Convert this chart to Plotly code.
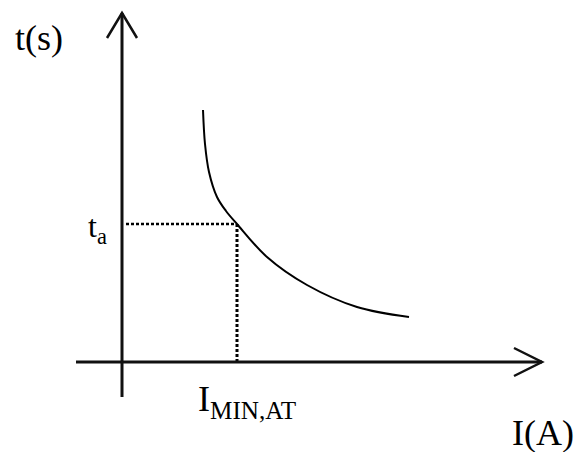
import plotly.graph_objects as go

# Inverse-time trip characteristic t(I), in drawing units (origin at axis crossing)
current = [81, 83, 87, 95, 104, 115, 145, 185, 235, 287]
trip_time = [252, 218, 190, 165, 151, 138, 105, 77, 55, 45]

# Operating point: minimum current and its trip time
i_min_at = 115
t_a = 138

# Axis extents
x_axis_start, x_axis_end = -46, 420
y_axis_start, y_axis_end = -35, 349

FONT = "Liberation Serif, Times New Roman, serif"
INK = "black"

fig = go.Figure()

# characteristic curve
fig.add_trace(go.Scatter(
    x=current, y=trip_time, mode="lines",
    line=dict(color=INK, width=2, shape="spline", smoothing=1.0),
    hoverinfo="skip", showlegend=False,
))

# dotted guide lines to the operating point
fig.add_trace(go.Scatter(
    x=[4, i_min_at], y=[t_a, t_a], mode="lines",
    line=dict(color=INK, width=2.5, dash="3px,2px"),
    hoverinfo="skip", showlegend=False,
))
fig.add_trace(go.Scatter(
    x=[i_min_at, i_min_at], y=[t_a, 0], mode="lines",
    line=dict(color=INK, width=3, dash="3px,2px"),
    hoverinfo="skip", showlegend=False,
))

# axes with open arrowheads
axis_line = dict(color="#111", width=3)
fig.add_shape(type="line", x0=x_axis_start, y0=0, x1=x_axis_end, y1=0, line=axis_line)
fig.add_shape(type="line", x0=0, y0=y_axis_start, x1=0, y1=y_axis_end, line=axis_line)
head = dict(color="#111", width=2.5)
fig.add_shape(type="path",
              path=f"M {x_axis_end-28},{14} L {x_axis_end},0 L {x_axis_end-28},{-14}",
              line=head)
fig.add_shape(type="path",
              path=f"M -15,{y_axis_end-25} L 0,{y_axis_end} L 15,{y_axis_end-25}",
              line=head)

# labels
fig.add_annotation(x=-83, y=324, text="t(s)", showarrow=False,
                   font=dict(family=FONT, size=36, color=INK),
                   xanchor="center", yanchor="middle")
fig.add_annotation(x=-13, y=134, text="t<sub>a</sub>", showarrow=False,
                   font=dict(family=FONT, size=32, color=INK),
                   xanchor="right", yanchor="middle")
fig.add_annotation(x=74, y=-15, text="I<sub>MIN,AT</sub>", showarrow=False,
                   font=dict(family=FONT, size=36, color=INK),
                   xanchor="left", yanchor="top")
fig.add_annotation(x=454, y=-49, text="I(A)", showarrow=False,
                   font=dict(family=FONT, size=36, color=INK),
                   xanchor="right", yanchor="top")

fig.update_xaxes(range=[-122, 455], visible=False, fixedrange=True)
fig.update_yaxes(range=[-90, 362], visible=False, fixedrange=True)
fig.update_layout(
    width=577, height=452,
    margin=dict(l=0, r=0, t=0, b=0),
    paper_bgcolor="white", plot_bgcolor="white",
    showlegend=False,
)

fig.write_html("out.html", config={"displayModeBar": False})
